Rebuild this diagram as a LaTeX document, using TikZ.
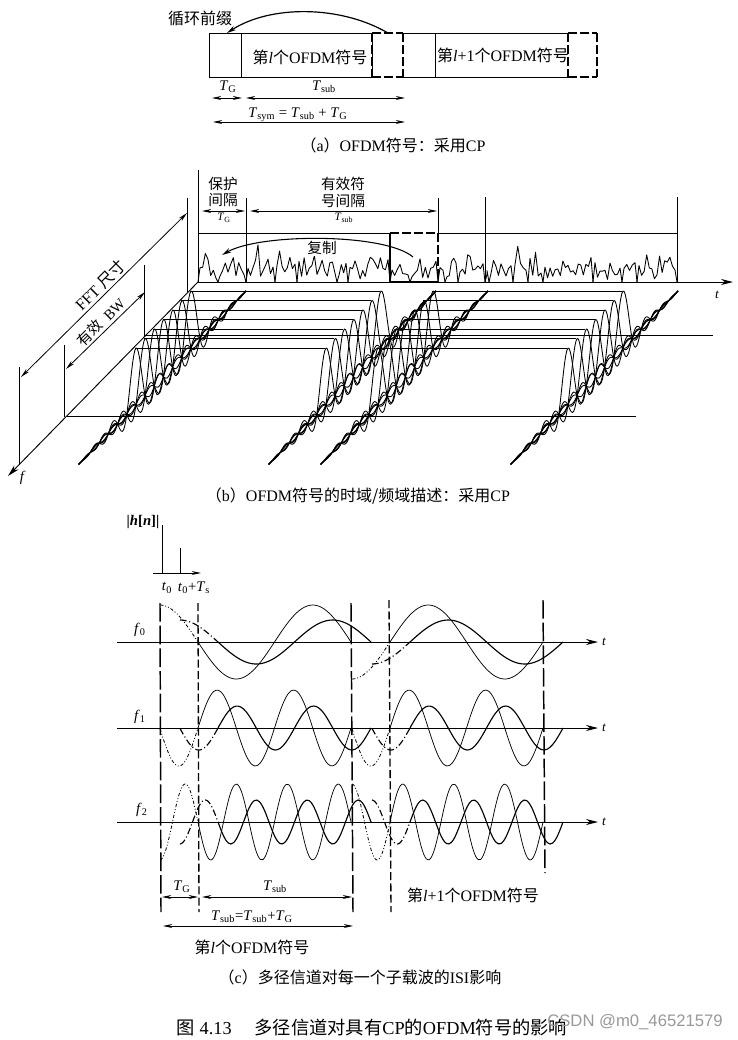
\documentclass[tikz,border=0pt]{standalone}
\usepackage{fontspec}
\setmainfont{Liberation Serif}
\newfontfamily\zhfont{Noto Sans CJK SC}
\newfontfamily\wmfont{Liberation Sans}
\usetikzlibrary{arrows.meta}
\newcommand{\zh}[1]{{\zhfont #1}}
\newcommand{\Tb}[1]{\textit{T}\textsubscript{#1}}
\newcommand{\wavepart}[8]{% style, axis y, amp, cycles, x0, sign, from, to
  \draw[#1] plot[domain=#7:#8,samples=60,smooth] (\x,{#2+(#6)*#3*sin(2.35294*#4*(\x-#5))});}
\newcommand{\carrier}[4]{% axis y, cycles, thin amp, signs (l, l+1)
  \wavepart{cpthin}{#1}{#3}{#2}{198}{#4}{160}{198}
  \wavepart{thinwave}{#1}{#3}{#2}{198}{#4}{198}{351}
  \wavepart{cpthick}{#1}{22}{#2}{218}{#4}{180}{218}
  \wavepart{thickwave}{#1}{22}{#2}{218}{#4}{218}{371}
  \wavepart{cpthin}{#1}{#3}{#2}{390}{-1}{352}{390}
  \wavepart{thinwave}{#1}{#3}{#2}{390}{-1}{390}{543}
  \wavepart{cpthick}{#1}{22}{#2}{410}{-1}{372}{410}
  \wavepart{thickwave}{#1}{22}{#2}{410}{-1}{410}{563}
}
\tikzset{
  base/.style={line width=0.6pt,black},
  dimarrow/.style={base,{Stealth[length=7pt,width=3pt]}-{Stealth[length=7pt,width=3pt]}},
  axisarrow/.style={line width=0.7pt,-{Stealth[length=9pt,width=4.5pt]}},
  lab/.style={inner sep=0pt,font=\fontsize{11}{13}\selectfont},
  captext/.style={inner sep=0pt,font=\fontsize{12}{14}\selectfont},
  heavydash/.style={line width=1pt,dash pattern=on 7pt off 2pt},
  longdash/.style={line width=1.1pt,dash pattern=on 14pt off 3pt},
  shortdash/.style={line width=1pt,dash pattern=on 6pt off 2.5pt},
  thinwave/.style={line width=0.55pt},
  thickwave/.style={line width=0.85pt},
  cpthin/.style={line width=0.6pt,dash pattern=on 2.5pt off 1.5pt on .7pt off 1.5pt on .7pt off 1.5pt},
  cpthick/.style={line width=0.85pt,dash pattern=on 5pt off 2pt on .8pt off 2pt},
  noise/.style={line width=0.65pt,line join=round},
  hump/.style={line width=0.65pt,line join=round},
}
\begin{document}
\begin{tikzpicture}[x=0.75pt,y=-0.75pt]
\useasboundingbox (0,0) rectangle (738,1040);
\fill[white] (0,0) rectangle (738,1040);

%%% (a)
\draw[base] (209,33) rectangle (372,77);
\draw[base] (241,33) -- (241,77);
\draw[base] (403,33) -- (568,33) (403,77) -- (568,77);
\draw[base] (435,33) -- (435,77);
\draw[heavydash] (372,33) -- (372,77);
\draw[heavydash] (403,33) -- (403,77);
\draw[heavydash] (568,33) -- (568,77);
\draw[heavydash] (597,33) -- (597,77);
\draw[heavydash] (372,33) -- (403,33) (372,77) -- (403,77);
\draw[heavydash] (568,33) -- (597,33) (568,77) -- (597,77);
\coordinate (cpA) at (388,33);
\coordinate (cpB) at (227,33);
\draw[line width=0.9pt,-{Stealth[length=7pt,width=3.5pt]}] (cpA) .. controls (340,5) and (270,5) .. (cpB);
\node[captext] (acp) at (200,18) {\zh{循环前缀}};
\node[captext] (asym1) at (310,57) {\zh{第}\textit{l}\zh{个}OFDM\zh{符号}};
\node[captext] (asym2) at (503,55) {\zh{第}\textit{l}+1\zh{个}OFDM\zh{符号}};
\node[lab] (atg) at (228,87) {\Tb{G}};
\node[lab] (atsub) at (324,87) {\Tb{sub}};
\node[lab] (atsym) at (298,115) {\Tb{sym} = \Tb{sub} + \Tb{G}};
\coordinate (a1) at (212,98); \coordinate (a2) at (242,98);
\coordinate (a3) at (246,98); \coordinate (a4) at (405,98);
\coordinate (a5) at (213,122); \coordinate (a6) at (405,122);
\draw[dimarrow] (a1) -- (a2);
\draw[dimarrow] (a3) -- (a4);
\draw[dimarrow] (a5) -- (a6);
\node[captext] (acap) at (393,145) {\zh{（}a\zh{）}OFDM\zh{符号：采用}CP};

%%% (b) axes and frames
\coordinate (or) at (198,282);
\coordinate (tend) at (733,282);
\coordinate (fend) at (8,476);
\draw[axisarrow] (or) -- (tend);
\draw[axisarrow] (or) -- (fend);
\node[lab,font=\fontsize{10}{12}\selectfont\itshape] (tb) at (717,295) {t};
\node[lab,font=\fontsize{11}{12}\selectfont\itshape] (fb) at (22,478) {f};
\draw[base] (198,170) -- (or);
\draw[base] (198,233) -- (390,233) (438,233) -- (677,233);
\draw[heavydash] (390,233) -- (438,233);
\draw[base] (246,198) -- (246,282);
\draw[base] (438,198) -- (438,233);
\draw[base] (485,197) -- (485,282);
\draw[base] (677,197) -- (677,282);
\draw[line width=1pt] (390,233) -- (390,282) -- (438,282);
\draw[heavydash] (438,233) -- (438,282);
% noise
\pgfmathsetseed{11}
\foreach \a/\b in {198/218,218/246,246/275,275/297,297/337,337/348,348/390,390/410,410/438,438/445,445/458,458/485,485/489,489/513,513/528,528/543,543/593,593/622,622/637,637/677}{
  \pgfmathtruncatemacro\nn{max(2,(\b-\a)/2.6)}
  \draw[noise] (\a,282) -- plot[domain=\a+2:\b-2,samples=\nn] (\x,{280-17*rnd-20*rnd*rnd}) -- (\b,282);
}
\coordinate (cA) at (413,257);
\coordinate (cB) at (222,255);
\draw[line width=0.8pt,-{Stealth[length=7pt,width=3.5pt]}] (cA) .. controls (385,233) and (260,233) .. (cB);
\node[lab,fill=white,inner sep=1pt] (copyl) at (322,248) {\zh{复制}};
\node[lab] (b1) at (223,184) {\zh{保护}};
\node[lab] (b2) at (223,200) {\zh{间隔}};
\node[lab] (b3) at (343,184) {\zh{有效符}};
\node[lab] (b4) at (343,201) {\zh{号间隔}};
\node[lab,font=\fontsize{8.5}{10}\selectfont] (b5) at (224,218) {\Tb{G}};
\node[lab,font=\fontsize{8.5}{10}\selectfont] (b6) at (344,218) {\Tb{sub}};
\coordinate (b7) at (202,211); \coordinate (b8) at (245,211);
\coordinate (b9) at (250,211); \coordinate (b10) at (437,211);
\draw[dimarrow] (b7) -- (b8);
\draw[dimarrow] (b9) -- (b10);
% size markers
\draw[base] (187,198) -- (187,292);
\draw[base] (144,265) -- (144,337);
\draw[base] (64,345) -- (64,417);
\draw[base] (19,367) -- (19,465);
\coordinate (s1) at (187,213); \coordinate (s2) at (21,377);
\coordinate (s3) at (145,292); \coordinate (s4) at (66,369);
\draw[dimarrow] (s1) -- (s2);
\draw[dimarrow] (s3) -- (s4);
\node[captext,rotate=45] (s5) at (100,285) {FFT \zh{尺寸}};
\node[lab,rotate=45] (s6) at (101,322) {\zh{有效}\ \ BW};
% floor lines
\draw[base] (145,335) -- (713,335);
\draw[base] (67,416) -- (636,416);
% rows
\foreach \k in {0,...,6}{
  \draw[base] ({135+9.17*\k},{348-9.5*\k}) -- ({325+9.17*\k},{348-9.5*\k});
  \draw[base] ({377+9.17*\k},{348-9.5*\k}) -- ({567+9.17*\k},{348-9.5*\k});
}
% subcarrier sinc groups
\foreach \dx in {0,190,242,432}{
  \foreach \k in {0,...,6}{
    \draw[hump] plot[domain=-6.25:12,samples=147]
      ({\dx+136+9.17*\x},{405-9.5*\x-57*min(1,min((\x+6.25)/2.5,(12-\x)/2.5))*sin(180*(\x-\k+0.01))/(3.1416*(\x-\k+0.01))});
  }
}
\node[captext] (bcap) at (358,496) {\zh{（}b\zh{）}OFDM\zh{符号的时域/频域描述：采用}CP};

%%% (c)
\node[lab,font=\fontsize{11}{13}\selectfont\bfseries] (hl) at (143,522) {|\textit{h}[\textit{n}]|};
\draw[base] (162,525) -- (162,573);
\draw[base] (180,548) -- (180,573);
\coordinate (h1) at (153,573); \coordinate (h2) at (201,573);
\draw[line width=.6pt,-{Stealth[length=7pt,width=3pt]}] (h1) -- (h2);
\node[lab] (t0) at (167,588) {\textit{t}\textsubscript{0}};
\node[lab] (t1) at (194,588) {\textit{t}\textsubscript{0}+\Tb{s}};
% axes
\foreach \yy/\lbl in {642/0,728/1,822/2}{
  \draw[axisarrow] (117,\yy) -- (598,\yy);
  \node[lab,font=\fontsize{10}{12}\selectfont\itshape] (tt\lbl) at (604,\yy) {t};
}
\node[lab] (f0) at (140,630) {\textit{f}\textsubscript{0}};
\node[lab] (f1) at (140,717) {\textit{f}\textsubscript{1}};
\node[lab] (f2) at (142,810) {\textit{f}\textsubscript{2}};
% verticals
\draw[longdash] (160,603) -- (161,912);
\draw[shortdash] (198,603) -- (199,912);
\draw[longdash] (351,603) -- (353,912);
\draw[shortdash] (389,600) -- (391,912);
\draw[longdash] (543,600) -- (545,873);
% waves
\carrier{642}{1}{37}{1}
\carrier{728}{2}{38}{-1}
\carrier{822}{3}{38}{1}
% dims
\coordinate (d1) at (162,897); \coordinate (d2) at (198,897);
\coordinate (d3) at (202,897); \coordinate (d4) at (352,897);
\coordinate (d5) at (163,926); \coordinate (d6) at (353,926);
\draw[dimarrow] (d1) -- (d2);
\draw[dimarrow] (d3) -- (d4);
\draw[dimarrow] (d5) -- (d6);
\node[lab] (d7) at (182,887) {\Tb{G}};
\node[lab] (d8) at (275,887) {\Tb{sub}};
\node[lab] (d9) at (252,917) {\Tb{sub}=\Tb{sub}+\Tb{G}};
\node[captext] (d10) at (252,947) {\zh{第}\textit{l}\zh{个}OFDM\zh{符号}};
\node[captext] (d11) at (473,895) {\zh{第}\textit{l}+1\zh{个}OFDM\zh{符号}};
\node[captext] (ccap) at (360,977) {\zh{（}c\zh{）多径信道对每一个子载波的}ISI\zh{影响}};
\node[captext,font=\fontsize{13.7}{16}\selectfont] (title) at (372,1028) {\zh{图} 4.13\quad\ \zh{多径信道对具有}CP\zh{的}OFDM\zh{符号的影响}};
\node[inner sep=0pt,text=black!40,font=\wmfont\fontsize{12.5}{14}\selectfont] (wm) at (635,1022) {CSDN @m0\_46521579};
\end{tikzpicture}
\end{document}
